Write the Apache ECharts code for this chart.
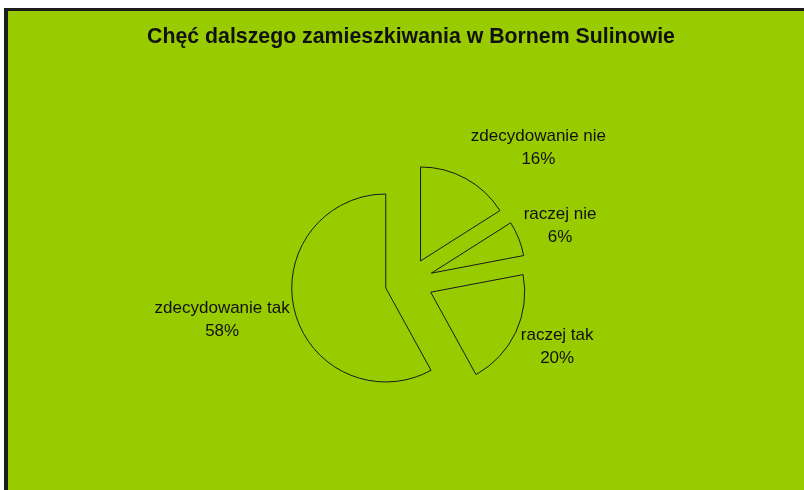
<!DOCTYPE html>
<html>
<head>
<meta charset="utf-8">
<script src="https://cdn.jsdelivr.net/npm/echarts@6/dist/echarts.min.js"></script>
<style>
  html, body { margin: 0; padding: 0; background: #ffffff; }
  #frame { position: absolute; left: 4px; top: 8px; width: 800px; height: 482px;
           border-top: 3px solid #1c1c1c; border-left: 4px solid #1c1c1c; background: #99cc00; box-sizing: border-box; }
  #chart { position: absolute; left: 0; top: 0; width: 804px; height: 490px; }
</style>
</head>
<body>
<div id="frame"></div>
<div id="chart"></div>
<script>
const titleText = 'Chęć dalszego zamieszkiwania w Bornem Sulinowie';
const categories = ['zdecydowanie nie', 'raczej nie', 'raczej tak', 'zdecydowanie tak'];
const values = [16, 6, 20, 58];

const chart = echarts.init(document.getElementById('chart'), null, { renderer: 'canvas' });

const PIE_CX = 409, PIE_CY = 282, PIE_R = 94, EXPLODE = 24, LABEL_GAP = 5, V_FACTOR = 1.4;
const total = values.reduce((a, b) => a + b, 0);

const data = categories.map((c, i) => ({ name: c, value: values[i], selected: true }));

const sliceStyle = { color: 'rgba(0,0,0,0)', borderColor: '#1a1a1a', borderWidth: 1 };
const FONT = 'Liberation Sans, Arial, sans-serif';

// Excel-like label placement: the label box sits just outside the exploded slice, on its mid-angle side
function placeLabel(p) {
  const i = p.dataIndex;
  let before = 0;
  for (let k = 0; k < i; k++) before += values[k];
  const mid = (before + values[i] / 2) / total * Math.PI * 2;
  const ux = Math.sin(mid), uy = -Math.cos(mid);
  const R = PIE_R + EXPLODE;
  const px = PIE_CX + R * ux, py = PIE_CY + R * uy;
  const w = p.labelRect.width, h = p.labelRect.height;
  const wantX = px + Math.sign(ux) * (w / 2 + LABEL_GAP);
  const wantY = py + uy * (h / 2 + LABEL_GAP) * V_FACTOR;
  const curX = p.labelRect.x + w / 2 + EXPLODE * ux;
  const curY = p.labelRect.y + h / 2 + EXPLODE * uy;
  return { dx: wantX - curX, dy: wantY - curY };
}

chart.setOption({
  backgroundColor: 'transparent',
  animation: false,
  title: {
    text: titleText,
    left: 406, top: 22, textAlign: 'center',
    textStyle: { fontFamily: FONT, fontWeight: 'bold', fontSize: 21.3, color: '#111' }
  },
  series: [{
    type: 'pie',
    center: [PIE_CX, PIE_CY],
    radius: PIE_R,
    startAngle: 90,
    clockwise: true,
    selectedMode: 'multiple',
    selectedOffset: EXPLODE,
    avoidLabelOverlap: false,
    data: data,
    itemStyle: sliceStyle,
    select: { itemStyle: sliceStyle, label: { show: true } },
    emphasis: { disabled: true },
    labelLine: { show: false, length: 20, length2: 0 },
    labelLayout: placeLabel,
    label: {
      show: true,
      position: 'outside',
      formatter: '{a|{b}}\n{a|{d}%}',
      rich: { a: { align: 'center', fontSize: 17, lineHeight: 23, color: '#111', fontFamily: FONT } },
      fontFamily: FONT,
      fontSize: 17, color: '#111'
    }
  }]
});
</script>
</body>
</html>
